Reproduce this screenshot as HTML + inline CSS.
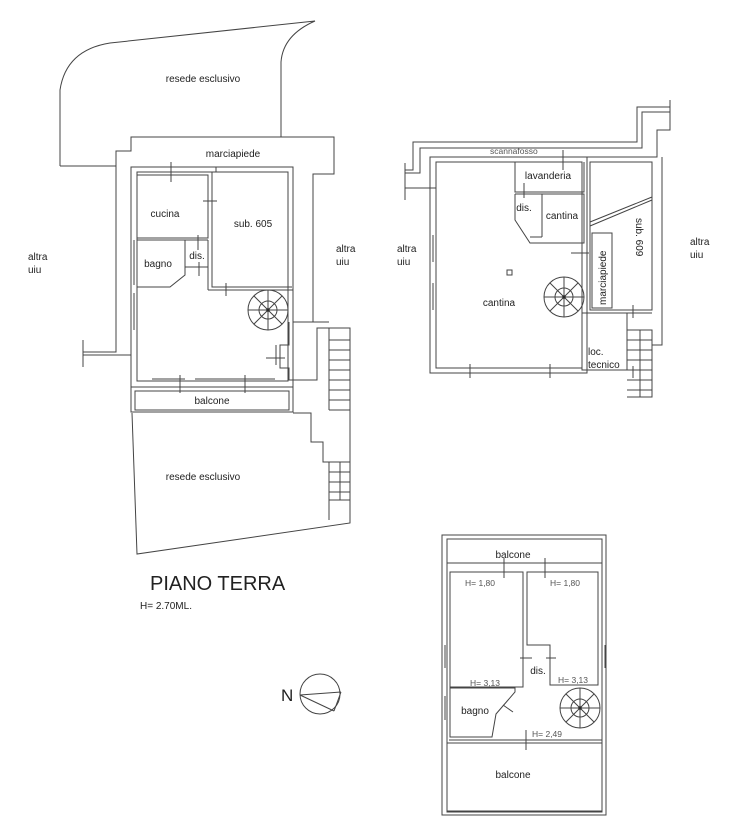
<!DOCTYPE html>
<html><head><meta charset="utf-8"><style>
html,body{margin:0;padding:0;background:#fff}
svg{display:block}
text{font-family:"Liberation Sans",Arial,sans-serif;fill:#222}
</style></head><body>
<svg width="739" height="839" viewBox="0 0 739 839" xmlns="http://www.w3.org/2000/svg">
<g fill="none" stroke="#444" stroke-width="1">
<path d="M60,166 L60,90 Q66,50 110,43 L315,21 Q283,35 281,62 L281,137"/>
<path d="M60,166 L116,166 L116,151 L131,151 L131,137 L334,137 L334,174 L313,174 L313,322"/>
<path d="M116,166 L116,352 L83,352 M83,340 L83,367 M83,355 L131,355"/>
<rect x="131" y="167" width="162" height="220"/>
<rect x="137" y="172" width="151" height="209"/>
<path d="M293,290 L293,322 L329,322"/>
<path d="M137,175 L208,175 L208,238 L137,238"/>
<path d="M137,240 L208,240 M185,240 L185,267 L208,267 M208,240 L208,290"/>
<path d="M137,287 L170,287 L185,275 L185,267"/>
<path d="M212,172 L212,287 L292,287 M216,167 L216,172"/>
<path d="M208,290 L293,290"/>
<path d="M171,162 L171,182 M203,201 L217,201 M198,235 L198,250 M199,262 L199,276 M226,283 L226,296 M266,358 L285,358 M180,375 L180,393 M245,375 L245,393 M276,345 L276,365"/>
<path d="M152,379 L185,379 M195,379 L275,379 M134,240 L134,285 M134,293 L134,330"/>
<circle cx="268" cy="310" r="20"/><circle cx="268" cy="310" r="9"/>
<path d="M268,290 L268,330 M248,310 L288,310 M254,296 L282,324 M282,296 L254,324"/>
<circle cx="268" cy="310" r="1.5" fill="#222"/>
<path d="M289,322 L289,345 L280,345 L280,368 L289,368 L289,380 L317,380 L317,328 L350,328 L350,410 L329,410"/>
<path d="M317,328 L329,328 L329,410 M329,340 L350,340 M329,350 L350,350 M329,360 L350,360 M329,370 L350,370 M329,380 L350,380 M329,390 L350,390 M329,400 L350,400"/>
<rect x="131" y="387" width="162" height="25"/>
<path d="M135,391 L289,391 L289,410 L135,410 Z"/>
<path d="M132,413 L137,554 L350,523 L350,380"/>
<path d="M293,413 L311,413 L311,442 L323,442 L323,462 L329,462 L329,520 M329,462 L350,462 M329,472 L350,472 M329,482 L350,482 M329,492 L350,492 M329,500 L350,500 M340,462 L340,500"/>

<path d="M405,163 L405,200 M405,170 L413,170 L413,142 L637,142 L637,107 L670,107 M405,188 L430,188 L430,157 L657,157 L657,130 L670,130 L670,100"/>
<path d="M405,173 L420,173 L420,148 L642,148 L642,112 L670,112 M430,188 L436,188"/>
<path d="M662,157 L662,345 L652,345"/>
<rect x="430" y="157" width="157" height="216"/>
<rect x="436" y="162" width="146" height="206"/>
<path d="M515,162 L515,192 L584,192 L584,162 M515,194 L515,220 L530,243 L584,243 L584,194 L542,194 L542,237 M515,194 L542,194 M530,237 L542,237"/>
<path d="M590,162 L652,162 L652,310 L590,310 Z M590,222 L652,197 M590,226 L652,200"/>
<path d="M592,233 L612,233 L612,308 L592,308 Z"/>
<path d="M582,313 L652,313 M627,313 L627,370 L582,370 L582,313 M627,330 L652,330 L652,397 L627,397 M627,340 L652,340 M627,350 L652,350 M627,360 L652,360 M627,370 L652,370 M627,380 L652,380 M627,390 L652,390 M640,330 L640,397"/>
<circle cx="564" cy="297" r="20"/><circle cx="564" cy="297" r="9"/>
<path d="M564,277 L564,317 M544,297 L584,297 M550,283 L578,311 M578,283 L550,311"/>
<circle cx="564" cy="297" r="1.5" fill="#222"/>
<rect x="507" y="270" width="5" height="5"/>
<path d="M563,150 L563,170 M524,183 L524,198 M571,253 L589,253 M470,364 L470,378 M550,364 L550,378 M433,235 L433,262 M433,283 L433,310 M633,305 L633,318 M633,366 L633,378"/>

<rect x="442" y="535" width="164" height="280"/>
<rect x="447" y="539" width="155" height="272"/>
<path d="M447,563 L602,563"/>
<path d="M450,572 L523,572 L523,687 L450,687 Z"/>
<path d="M527,572 L598,572 L598,685 L550,685 L550,645 L527,645 Z"/>
<path d="M450,688 L515,688 L515,692 L496,714 L492,737 L450,737 Z M449,740 L602,740"/>
<path d="M447,743 L602,743 L602,812 L447,812 Z"/>
<circle cx="580" cy="708" r="20"/><circle cx="580" cy="708" r="9"/>
<path d="M580,688 L580,728 M560,708 L600,708 M566,694 L594,722 M594,694 L566,722"/>
<circle cx="580" cy="708" r="1.5" fill="#222"/>
<path d="M504,558 L504,578 M545,558 L545,578 M520,658 L532,658 M546,658 L556,658 M526,730 L526,750 M503,705 L513,712 M445,645 L445,668 M445,696 L445,720 M605,645 L605,668"/>

<circle cx="320" cy="694" r="20"/>
<path d="M300,695 L341,692 M300,695 L334,711 M341,692 L334,711"/>
</g>

<g font-size="10">
<text x="203" y="82" text-anchor="middle">resede esclusivo</text>
<text x="233" y="157" text-anchor="middle">marciapiede</text>
<text x="165" y="217" text-anchor="middle">cucina</text>
<text x="253" y="227" text-anchor="middle">sub. 605</text>
<text x="158" y="267" text-anchor="middle">bagno</text>
<text x="197" y="259" text-anchor="middle">dis.</text>
<text x="336" y="252">altra</text><text x="336" y="265">uiu</text>
<text x="28" y="260">altra</text><text x="28" y="273">uiu</text>
<text x="212" y="404" text-anchor="middle">balcone</text>
<text x="203" y="480" text-anchor="middle">resede esclusivo</text>
<text x="397" y="252">altra</text><text x="397" y="265">uiu</text>
<text x="690" y="245">altra</text><text x="690" y="258">uiu</text>
<text x="548" y="179" text-anchor="middle">lavanderia</text>
<text x="524" y="211" text-anchor="middle">dis.</text>
<text x="562" y="219" text-anchor="middle">cantina</text>
<text x="499" y="306" text-anchor="middle">cantina</text>
<text x="588" y="355">loc.</text><text x="588" y="368">tecnico</text>
<text x="0" y="0" transform="translate(606,305) rotate(-90)">marciapiede</text>
<text x="0" y="0" transform="translate(636,218) rotate(90)">sub. 609</text>
<text x="513" y="558" text-anchor="middle">balcone</text>
<text x="475" y="714" text-anchor="middle">bagno</text>
<text x="538" y="674" text-anchor="middle">dis.</text>
<text x="513" y="778" text-anchor="middle">balcone</text>
</g>
<g font-size="8.5">
<text x="490" y="154" style="fill:#555">scannafosso</text>
<text x="465" y="586" style="fill:#555">H= 1,80</text>
<text x="550" y="586" style="fill:#555">H= 1,80</text>
<text x="470" y="686" style="fill:#555">H= 3,13</text>
<text x="558" y="683" style="fill:#555">H= 3,13</text>
<text x="532" y="737" style="fill:#555">H= 2,49</text>
</g>
<text x="150" y="590" font-size="20">PIANO TERRA</text>
<text x="140" y="609" font-size="10">H= 2.70ML.</text>
<text x="281" y="701" font-size="17">N</text>
</svg>
</body></html>
